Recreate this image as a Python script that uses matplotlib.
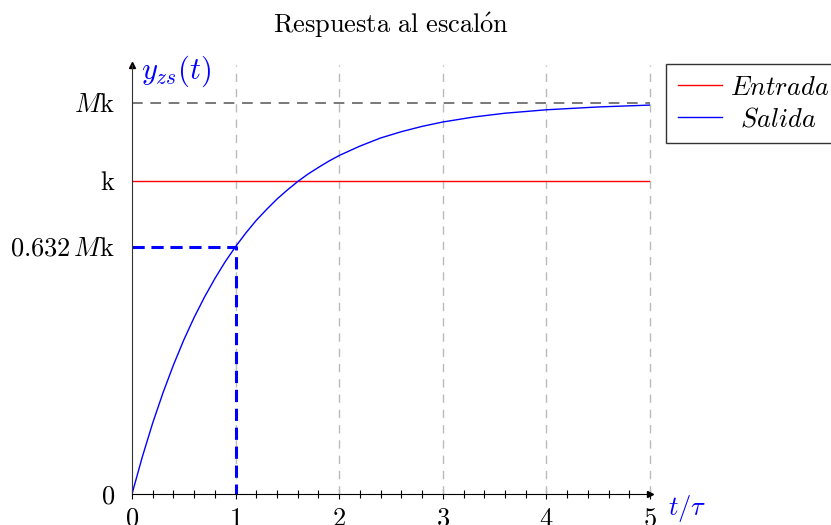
import numpy as np
import matplotlib
matplotlib.use("Agg")
import matplotlib.pyplot as plt

plt.rcParams['mathtext.fontset'] = 'cm'
plt.rcParams['font.family'] = 'serif'
plt.rcParams['font.serif'] = ['cmr10', 'DejaVu Serif']
plt.rcParams['axes.unicode_minus'] = False

# step response (t in units of tau)
t_vals = [0.0, 0.1, 0.2, 0.3, 0.4, 0.5, 0.6, 0.7, 0.8, 0.9, 1.0,
          1.1, 1.2, 1.3, 1.4, 1.5, 1.6, 1.7, 1.8, 1.9, 2.0,
          2.2, 2.4, 2.6, 2.8, 3.0, 3.3, 3.6, 4.0, 4.5, 5.0]
y_out = [0.0, 0.119, 0.227, 0.324, 0.412, 0.492, 0.564, 0.629, 0.688, 0.742, 0.790,
         0.834, 0.874, 0.909, 0.942, 0.971, 0.998, 1.022, 1.043, 1.063, 1.081,
         1.111, 1.137, 1.157, 1.174, 1.188, 1.204, 1.216, 1.227, 1.236, 1.242]
k_in = 1.0
Mk = 1.25
y63 = 0.79
t63 = 1.0
grid_x = [1, 2, 3, 4, 5]
ytick_vals = [0, y63, k_in, Mk]
ytick_labels = ['$0$', r'$0.632\,M\mathrm{k}$', r'$\mathrm{k}$', r'$M\mathrm{k}$']

fs = 19
fig = plt.figure(figsize=(8.31, 5.25), dpi=100)
ax = fig.add_axes([132/831, 31/525, 518/831, 429/525])
ax.set_xlim(0, 5)
ax.set_ylim(0, 1.37)

ax.vlines(grid_x, 0, 1.37, colors='#bbbbbb', linestyles=(0, (6, 5)), lw=1, clip_on=False)
ax.hlines(Mk, 0, 5, colors='#555555', linestyles=(0, (7, 5)), lw=1.1)
ax.plot([0, 5], [k_in, k_in], color='red', lw=1, label='$Entrada$')
ax.plot(t_vals, y_out, color='blue', lw=1, label=r'$\hspace{0.45}Salida$')
ax.plot([0, t63, t63], [y63, y63, 0], color='blue', lw=2.2, ls=(0, (4, 2.2)))

for s in ['top', 'right']:
    ax.spines[s].set_visible(False)
ax.spines['left'].set_color('#333333')
ax.spines['bottom'].set_color('black')
ax.plot(1, 0, '>', color='black', ms=5, transform=ax.transAxes, clip_on=False)
ax.plot(0, 1, '^', color='black', ms=5, transform=ax.transAxes, clip_on=False)

ax.set_xticks([0, 1, 2, 3, 4, 5])
ax.set_xticklabels(['$%d$' % i for i in range(6)], fontsize=fs)
ax.set_xticks(np.arange(0, 5.01, 0.2), minor=True)
ax.tick_params(axis='x', which='major', direction='inout', length=7, width=0.8, pad=6)
ax.tick_params(axis='x', which='minor', direction='inout', length=6, width=0.8)
ax.set_yticks(ytick_vals)
ax.set_yticklabels(ytick_labels, fontsize=fs)
ax.tick_params(axis='y', length=0, pad=12)

ax.text(0.09, 1.35, r'$y_{zs}(t)$', color='blue', fontsize=22, ha='left', va='center')
ax.text(5.17, -0.045, r'$t/\tau$', color='blue', fontsize=fs, ha='left', va='center')

fig.text(391/831, 1 - 25/525, r'$\mathrm{Respuesta\ al\ escal\acute{o}n}$', fontsize=fs,
         ha='center', va='center')

leg = fig.legend(loc='upper left', bbox_to_anchor=(666/831, 1 - 64/525), fontsize=fs,
                 frameon=True, fancybox=False, edgecolor='black', handlelength=1.67,
                 handletextpad=0.3, labelspacing=0.3, borderpad=0.45, borderaxespad=0)
leg.get_frame().set_linewidth(1)

plt.savefig('out.png', dpi=100)
plt.close("all")
